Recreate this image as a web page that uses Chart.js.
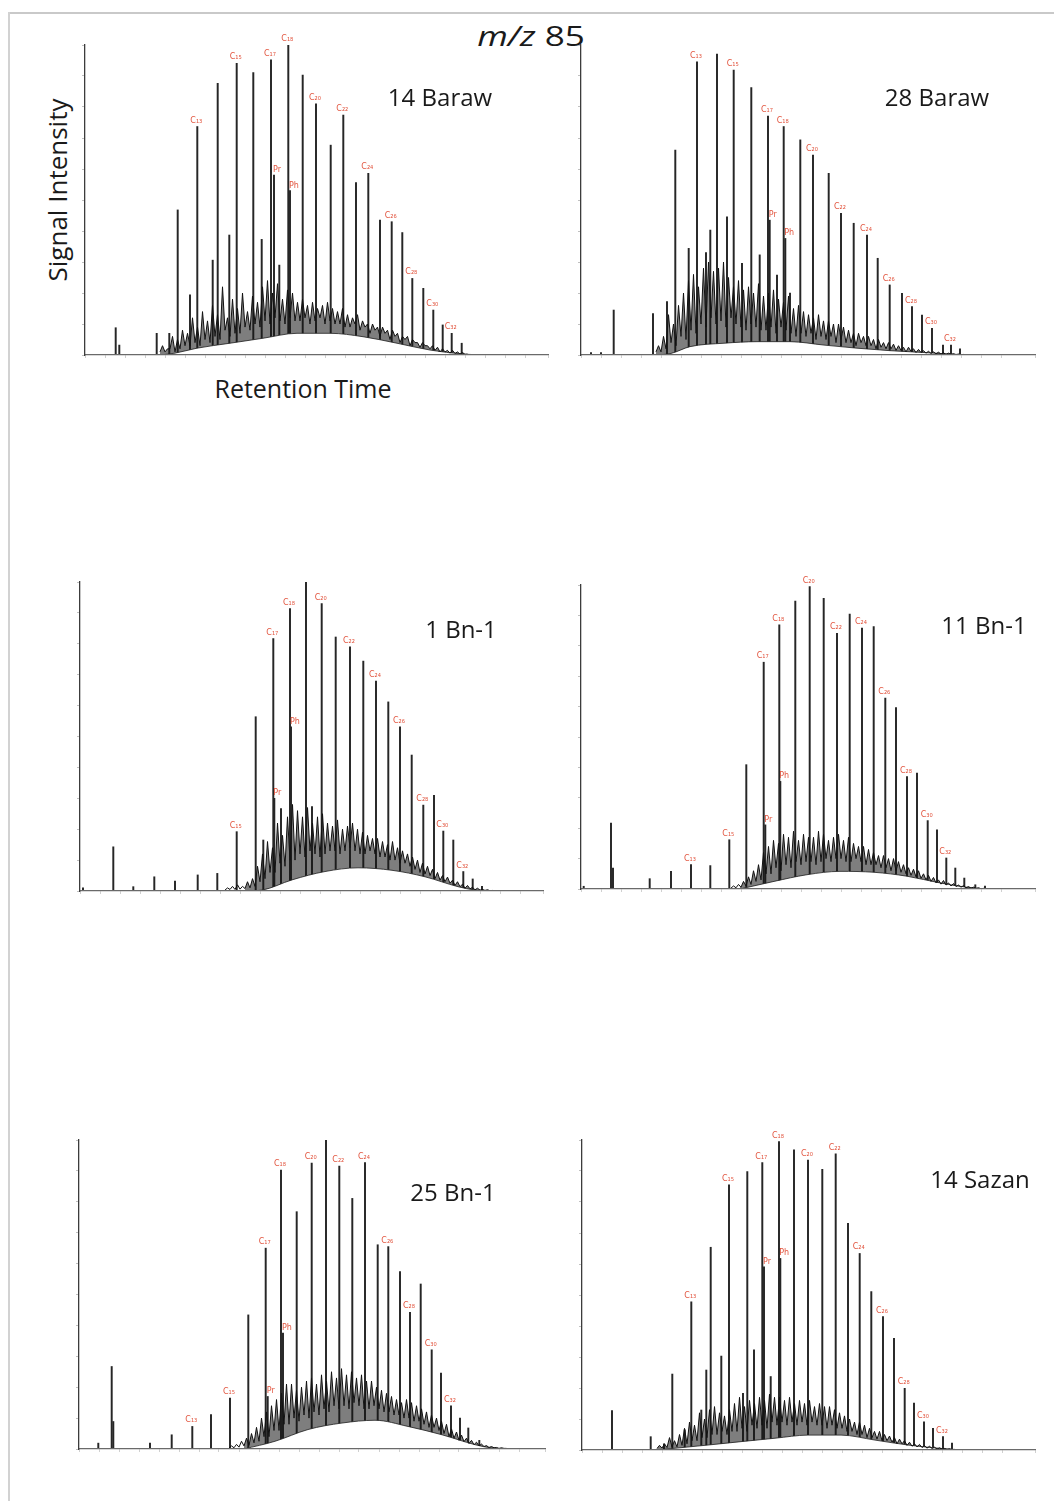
<!DOCTYPE html>
<html><head><meta charset="utf-8">
<script src="https://cdn.jsdelivr.net/npm/chart.js@4.4.1/dist/chart.umd.min.js"></script>
<style>
body{margin:0;background:#fff;width:1062px;height:1501px;position:relative;overflow:hidden;font-family:'Open Sans',sans-serif}
.frameTop{position:absolute;left:9px;top:12px;width:1045px;height:2px;background:#c9c9c9}
.frameLeft{position:absolute;left:8px;top:12px;width:2px;height:1489px;background:#d2d2d2}
.box{position:absolute}
.txt{position:absolute;white-space:nowrap;color:#1a1a1a;line-height:1;transform:translate(-50%,-50%)}
</style>
</head><body>
<div class="frameTop"></div><div class="frameLeft"></div>
<div class="txt" style="left:531px;top:35px;font-size:27px;transform:translate(-50%,-50%) scaleX(1.3)"><i>m/z</i> 85</div>
<div class="txt" style="left:57px;top:190px;font-size:26px;transform:translate(-50%,-50%) rotate(-90deg)">Signal Intensity</div>
<div class="txt" style="left:303px;top:388px;font-size:25px">Retention Time</div>
<div id="wrap"></div>
<script>
// ---------------- DATA ----------------
const RT_STEP = 0.25;                       // sampling step of the unresolved trace (min)
const rtMax = [46.3, 45.4, 46.3, 45.4, 46.6, 45.3];
const sampleNames = ['14 Baraw', '28 Baraw', '1 Bn-1', '11 Bn-1', '25 Bn-1', '14 Sazan'];

// 14 Baraw
const baraw14_rt  = [3.07,3.43,7.17,8.43,9.27,10.5,11.23,12.77,13.27,14.43,15.17,16.83,17.67,18.6,18.9,19.43,20.33,20.5,21.77,23.1,24.57,25.83,27.1,28.33,29.5,30.67,31.73,32.73,33.83,34.83,35.77,36.67,37.67];
const baraw14_int = [8.8,3.2,7.0,7,46.8,19.4,73.7,30.6,87.6,38.7,94.1,91.1,37.3,95.2,58,29,100,53,90.3,81,67.7,77.4,55.6,58.6,43.5,43,39.5,24.7,21.5,14.5,9.7,7,3.8];
const baraw14_lblRt  = [11.23,15.17,18.6,18.9,20.33,20.5,23.1,25.83,28.33,30.67,32.73,34.83,36.67];
const baraw14_lblTxt = ['C₁₃','C₁₅','C₁₇','Pr','C₁₈','Ph','C₂₀','C₂₂','C₂₄','C₂₆','C₂₈','C₃₀','C₃₂'];
const baraw14_noiseStart = 7.5;
const baraw14_noise = [1,3,1,2, 2,6,1,5, 2,8,3,7, 3,12,4,9, 3,14,5,11, 4,16,6,13, 5,22,8,12, 6,18,7,15, 7,20,9,14, 8,19,10,17, 9,22,11,24, 10,20,12,23, 11,18,10,21, 12,20,11,17, 11,18,12,16, 10,17,11,15, 12,16,10,17, 11,15,10,14, 10,15,9,13, 9,12,10,13, 8,11,9,10, 7,10,8,9, 6,9,7,8, 5,8,6,7, 4,6,5,6, 3,5,4,4, 2.5,4,3,3, 2,3,1.5,2.5, 1,2,1,1.5, 0.6,1.5,0.5,1, 0.3,0.8,0.2,0.3];
const baraw14_humpRt  = [7.5,9,11.2,14.5,17.8,21.2,24.5,27.8,31.2,34.5,37.8,40];
const baraw14_humpInt = [0,0.6,2.2,3.8,5.4,7.0,7.0,5.9,3.8,1.6,0.3,0];

// 28 Baraw
const baraw28_rt  = [1.0,2.0,3.27,7.2,8.6,9.43,10.77,11.6,12.5,12.93,13.6,14.6,15.27,16.1,17.03,17.87,18.7,18.87,19.6,20.27,20.43,20.9,21.93,23.2,24.77,26.0,27.27,28.6,29.67,30.87,32.1,33.1,34.1,35.1,36.2,37.0,37.9];
const baraw28_int = [0.8,0.8,14.5,13.4,17.2,66.1,34.4,94.6,33,40.3,97.1,44.6,91.9,29.6,86.3,32.3,77.1,43.5,25.8,73.7,37.6,20,69.4,64.5,58.6,45.7,42.5,38.7,31.2,22.6,19.9,15.6,12.9,8.6,3.2,3.2,2];
const baraw28_lblRt  = [11.6,15.27,18.7,18.87,20.27,20.43,23.2,26.0,28.6,30.87,33.1,35.1,37.0];
const baraw28_lblTxt = ['C₁₃','C₁₅','C₁₇','Pr','C₁₈','Ph','C₂₀','C₂₂','C₂₄','C₂₆','C₂₈','C₃₀','C₃₂'];
const baraw28_noiseStart = 7.5;
const baraw28_noise = [1,3,1,6, 2,13,4,10, 3,16,6,20, 5,24,8,26, 7,22,10,28, 9,30,12,27, 10,28,11,30, 9,25,12,22, 10,24,9,21, 8,22,10,20, 9,23,8,19, 8,20,9,21, 7,18,9,17, 8,19,7,15, 6,16,7,14, 6,13,7,12, 5,13,6,11, 5,11,6,10, 4,10,5,9, 4,8,4,7, 3,7,4,6, 3,6,3,5, 2,5,2.5,4, 2,4,2,3.5, 1.5,3,1.5,2.5, 1,2.5,1.2,2, 0.8,1.8,0.8,1.4, 0.6,1.2,0.5,1, 0.4,0.9,0.3,0.7, 0.2,0.6,0.2,0.4, 0.1,0.3,0.1,0.2];
const baraw28_humpRt  = [7.5,9,10.9,14.3,17.6,20.9,24.3,27.6,30.9,34.3,37.6,40];
const baraw28_humpInt = [0,0.5,2.7,3.8,4.3,4.3,3.2,2.2,1.4,0.8,0.2,0];

// 1 Bn-1
const bn1_rt  = [0.3,3.33,5.33,7.43,9.5,11.77,13.73,15.67,17.57,18.33,19.33,19.43,20.1,21.0,21.1,22.6,23.2,24.17,25.57,27.0,28.33,29.6,30.83,32.0,33.17,34.33,35.4,36.33,37.33,38.33,39.27,40.2];
const bn1_int = [1,14.3,1.4,4.6,3.2,5.2,5.7,19.2,56.4,16.5,81.7,30,26.7,91.4,53.1,100,27.3,93,82.2,79,74.4,67.9,61.2,53.1,44,27.8,31,19.4,16.5,6.3,3.9,1.5];
const bn1_lblRt  = [15.67,19.33,19.43,21.0,21.1,24.17,27.0,29.6,32.0,34.33,36.33,38.33];
const bn1_lblTxt = ['C₁₅','C₁₇','Pr','C₁₈','Ph','C₂₀','C₂₂','C₂₄','C₂₆','C₂₈','C₃₀','C₃₂'];
const bn1_noiseStart = 14.5;
const bn1_noise = [0.3,1,0.5,1.5, 0.5,2,0.6,1.5, 0.8,3,1,4, 1.5,8,3,12, 4,16,6,14, 6,22,9,18, 8,24,10,28, 10,26,12,24, 11,27,13,22, 12,24,11,25, 12,22,13,21, 13,23,12,20, 13,21,14,22, 13,20,12,19, 12,18,13,17, 12,17,11,16, 11,15,10,16, 10,14,9,13, 9,12,8,11, 7,10,6,9, 5.5,8,5,7, 4,6,3.5,5, 3,4.5,2.5,3.5, 1.8,3,1.4,2.2, 0.9,1.8,0.7,1.2, 0.4,0.9,0.3,0.5, 0.2,0.4,0.1,0.2];
const bn1_humpRt  = [16.5,18.2,21.2,24.5,27.8,31.2,34.5,37.8,39.5,41];
const bn1_humpInt = [0,0.3,3.6,6.3,7.5,6.7,4.6,1.4,0.3,0];

// 11 Bn-1
const bn11_rt  = [0.27,3.0,3.2,6.87,9.0,11.0,12.93,14.83,16.53,18.27,18.43,19.83,19.93,21.43,22.87,24.27,25.6,26.87,28.1,29.27,30.43,31.5,32.6,33.6,34.67,35.6,36.53,37.43,38.33,39.43,40.4];
const bn11_int = [0.9,21.7,6.9,3.4,5.8,8.0,7.7,16.2,40.9,74.6,21.1,86.9,35.4,94.7,99.5,95.6,84.1,90.4,85.8,86.3,62.8,59.7,37,38.1,22.5,19.5,10.2,6.9,3.6,1.4,1];
const bn11_lblRt  = [11.0,14.83,18.27,18.43,19.83,19.93,22.87,25.6,28.1,30.43,32.6,34.67,36.53];
const bn11_lblTxt = ['C₁₃','C₁₅','C₁₇','Pr','C₁₈','Ph','C₂₀','C₂₂','C₂₄','C₂₆','C₂₈','C₃₀','C₃₂'];
const bn11_noiseStart = 15;
const bn11_noise = [0.3,1,0.4,1.5, 0.6,2.5,1,4, 1.5,6,2.5,8, 3,12,5,14, 5,16,7,15, 6,18,8,17, 7,19,9,16, 8,18,9,17, 9,17,8,19, 9,18,10,16, 9,17,10,18, 10,16,9,17, 9,15,10,14, 9,14,8,13, 8,12,8,11, 7,11,7,10, 6,10,6,9, 5.5,8,5,7, 4.5,6.5,4,6, 3.5,5,3,4.5, 2.5,3.8,2,3, 1.6,2.8,1.3,2, 1,1.8,0.8,1.3, 0.6,1.1,0.4,0.8, 0.3,0.6,0.2,0.4, 0.1,0.2,0.1,0.1];
const bn11_humpRt  = [15.9,19.3,22.6,25.9,29.3,32.6,35.9,39.3,41];
const bn11_humpInt = [0,2.5,4.7,5.8,5.5,4.2,2.0,0.3,0];

// 25 Bn-1
const bn25_rt  = [1.93,3.27,3.43,7.1,9.27,11.33,13.2,15.1,16.93,18.67,18.87,20.2,20.4,21.77,23.27,24.7,26.03,27.33,28.6,29.87,30.93,32.1,33.1,34.17,35.27,36.2,37.2,38.1,38.93,40.03];
const bn25_int = [1.9,26.7,8.9,1.9,4.6,7.3,11.1,16.5,43.4,65,17,90.3,37.5,76.8,92.5,100,91.6,81.1,92.7,66.1,65.5,57.4,44.2,53.4,32.1,24.6,14,10,6.8,2.8];
const bn25_lblRt  = [11.33,15.1,18.67,18.87,20.2,20.4,23.27,26.03,28.6,30.93,33.1,35.27,37.2];
const bn25_lblTxt = ['C₁₃','C₁₅','C₁₇','Pr','C₁₈','Ph','C₂₀','C₂₂','C₂₄','C₂₆','C₂₈','C₃₀','C₃₂'];
const bn25_noiseStart = 15;
const bn25_noise = [0.3,1,0.4,1.5, 0.6,2.5,1,3.5, 1.2,5,2,7, 2.5,10,4,12, 4,14,6,16, 6,18,8,21, 8,21,10,19, 9,20,11,22, 10,23,12,21, 11,24,13,22, 12,25,14,23, 13,26,14,24, 13,25,15,23, 14,24,13,22, 13,22,14,20, 13,19,12,18, 12,17,11,16, 11,15,10,16, 10,15,9,14, 9,13,8,12, 7,11,7,10, 6,9,5,8, 4,6.5,3.5,5.5, 2.8,4.5,2.4,3.5, 1.8,2.8,1.4,2.2, 1,1.6,0.8,1.1, 0.5,0.8,0.4,0.5, 0.2,0.4,0.2,0.2];
const bn25_humpRt  = [16.5,19.6,22.9,26.3,29.6,32.9,36.3,39.6,41.3,43];
const bn25_humpInt = [0,2.5,6.3,8.4,9.3,7.3,4.6,1.4,0.3,0];

// 14 Sazan
const sazan14_rt  = [3.0,6.87,8.2,9.03,10.27,10.93,11.93,12.43,12.87,13.93,14.7,16.1,16.53,17.2,18.03,18.2,18.87,19.7,19.83,21.2,22.6,24.03,25.37,26.6,27.77,28.93,30.1,31.2,32.27,33.2,34.2,35.1,36.1,37.0];
const sazan14_int = [12.7,4.3,2,24.5,6.5,47.8,12.9,25.8,65.4,30.3,85.5,18.3,89.8,32.3,92.7,59.1,23.7,99.5,61.8,96.8,93.5,90.5,95.5,73.1,63.4,51.1,43,36,19.9,15.1,9.1,7,4.3,2.2];
const sazan14_lblRt  = [10.93,14.7,18.03,18.2,19.7,19.83,22.6,25.37,27.77,30.1,32.27,34.2,36.1];
const sazan14_lblTxt = ['C₁₃','C₁₅','C₁₇','Pr','C₁₈','Ph','C₂₀','C₂₂','C₂₄','C₂₆','C₂₈','C₃₀','C₃₂'];
const sazan14_noiseStart = 7.5;
const sazan14_noise = [0.5,1.5,0.6,2, 0.8,4,1,3, 1,5,1.5,7, 2,9,3,8, 3,12,4,10, 4,13,5,14, 5,12,6,11, 5,13,6,15, 6,17,7,14, 6,16,8,15, 7,17,8,16, 7,18,9,17, 8,17,9,16, 8,17,9,15, 8,16,9,15, 8,16,9,14, 8,15,8,14, 7,14,8,13, 7,12,7,11, 6,10,6,9, 5,9,5,8, 4,7,4,6, 3.5,6,3,5, 3,4.5,2.5,4, 2,3.5,2,3, 1.5,2.5,1.2,2, 1,1.8,0.8,1.4, 0.6,1.2,0.5,0.9, 0.3,0.7,0.3,0.5, 0.2,0.4,0.1,0.2];
const sazan14_humpRt  = [7.5,12.6,15.9,19.3,22.6,25.9,29.3,32.6,35.9,38];
const sazan14_humpInt = [0,1.6,2.7,3.8,4.8,4.8,3.2,1.6,0.5,0];

// ---------------- LAYOUT ----------------
const boxes = [
  {l:85, t:45, r:548, b:355, lx:440, ly:97},
  {l:581,t:45, r:1035,b:355, lx:937, ly:97},
  {l:80, t:582,r:543, b:891, lx:461, ly:629},
  {l:581,t:585,r:1035,b:889, lx:984, ly:625},
  {l:79, t:1140,r:545,b:1449,lx:453, ly:1192},
  {l:582,t:1140,r:1035,b:1450,lx:980, ly:1179}
];
const PAD = {left:8, right:8, top:22, bottom:8};

const panels = [
  {rt:baraw14_rt, it:baraw14_int, lr:baraw14_lblRt, lt:baraw14_lblTxt, ns:baraw14_noiseStart, nz:baraw14_noise, hr:baraw14_humpRt, hi:baraw14_humpInt},
  {rt:baraw28_rt, it:baraw28_int, lr:baraw28_lblRt, lt:baraw28_lblTxt, ns:baraw28_noiseStart, nz:baraw28_noise, hr:baraw28_humpRt, hi:baraw28_humpInt},
  {rt:bn1_rt, it:bn1_int, lr:bn1_lblRt, lt:bn1_lblTxt, ns:bn1_noiseStart, nz:bn1_noise, hr:bn1_humpRt, hi:bn1_humpInt},
  {rt:bn11_rt, it:bn11_int, lr:bn11_lblRt, lt:bn11_lblTxt, ns:bn11_noiseStart, nz:bn11_noise, hr:bn11_humpRt, hi:bn11_humpInt},
  {rt:bn25_rt, it:bn25_int, lr:bn25_lblRt, lt:bn25_lblTxt, ns:bn25_noiseStart, nz:bn25_noise, hr:bn25_humpRt, hi:bn25_humpInt},
  {rt:sazan14_rt, it:sazan14_int, lr:sazan14_lblRt, lt:sazan14_lblTxt, ns:sazan14_noiseStart, nz:sazan14_noise, hr:sazan14_humpRt, hi:sazan14_humpInt}
];

const peakLabelPlugin = {
  id: 'peakLabels',
  afterDatasetsDraw(chart, args, opts) {
    const {ctx, scales:{x, y}} = chart;
    ctx.save();
    ctx.font = '8px "DejaVu Sans"';
    ctx.fillStyle = '#e2553f';
    ctx.textBaseline = 'alphabetic';
    opts.at.forEach((rt, i) => {
      const idx = opts.rt.indexOf(rt);
      const px = x.getPixelForValue(rt);
      const py = y.getPixelForValue(opts.it[idx]);
      const txt = opts.txt[i];
      if (txt === 'Pr' || txt === 'Ph') {
        ctx.textAlign = 'left';
        ctx.fillText(txt, px - 1, py - 3);
      } else {
        ctx.textAlign = 'center';
        ctx.fillText(txt, px - 1, py - 4);
      }
    });
    ctx.restore();
  }
};

const wrap = document.getElementById('wrap');
panels.forEach((p, k) => {
  const bx = boxes[k];
  const W = bx.r - bx.l + PAD.left + PAD.right;
  const H = bx.b - bx.t + PAD.top + PAD.bottom;
  const div = document.createElement('div');
  div.className = 'box';
  div.style.left = (bx.l - PAD.left) + 'px';
  div.style.top = (bx.t - PAD.top) + 'px';
  div.style.width = W + 'px';
  div.style.height = H + 'px';
  const cv = document.createElement('canvas');
  cv.width = W; cv.height = H;
  div.appendChild(cv);
  wrap.appendChild(div);

  const lab = document.createElement('div');
  lab.className = 'txt';
  lab.style.left = bx.lx + 'px';
  lab.style.top = bx.ly + 'px';
  lab.style.fontSize = '24px';
  lab.textContent = sampleNames[k];
  document.body.appendChild(lab);

  const peaks = p.rt.map((t, i) => ({x:t, y:p.it[i]}));
  const hump = p.hr.map((t, i) => ({x:t, y:p.hi[i]}));
  const trace = p.nz.map((v, i) => ({x:p.ns + i * RT_STEP, y:v}));

  new Chart(cv, {
    type: 'bar',
    data: {datasets: [
      {type:'bar', data:peaks, backgroundColor:'#262626', borderWidth:0, barThickness:1.3, order:3},
      {type:'line', data:hump, borderColor:'#3a3a3a', borderWidth:0.9, pointRadius:0, fill:'origin', backgroundColor:'#ffffff', cubicInterpolationMode:'monotone', order:2},
      {type:'line', data:trace, borderColor:'#111111', borderWidth:1.0, pointRadius:0, tension:0, fill:1, backgroundColor:'rgba(20,20,20,0.55)', order:1}
    ]},
    options: {
      responsive:false, animation:false, events:[],
      layout:{padding:PAD},
      plugins:{legend:{display:false}, tooltip:{enabled:false},
        peakLabels:{at:p.lr, txt:p.lt, rt:p.rt, it:p.it}},
      scales:{
        x:{type:'linear', min:0, max:rtMax[k], offset:false,
           ticks:{display:false, stepSize:2},
           grid:{display:true, drawOnChartArea:false, drawTicks:true, tickLength:3, color:'#d0d0d0', offset:false},
           border:{color:'#6a6a6a', width:1.3, z:1},
           afterFit(s){ s.height = 0; }},
        y:{min:0, max:100,
           ticks:{display:false, stepSize:10},
           grid:{display:true, drawOnChartArea:false, drawTicks:true, tickLength:3, color:'#c0c0c0'},
           border:{color:'#3c3c3c', width:1.3, z:1},
           afterFit(s){ s.width = 0; }}
      }
    },
    plugins:[peakLabelPlugin]
  });
});
</script>
</body></html>
